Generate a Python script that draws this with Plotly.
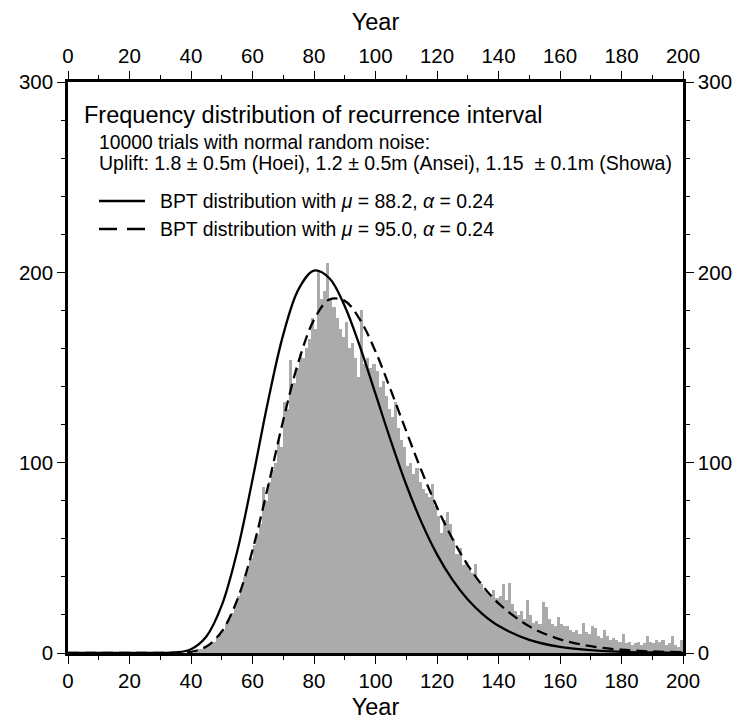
import plotly.graph_objects as go

# ---------------- data ----------------
# histogram: counts per 1-year bin, bins [year, year+1) for year = 0..199
bin_start = list(range(0, 200))
hist_counts = (
    [0] * 41 +
    [1, 2, 2, 3, 4, 5, 6, 8, 10,                                  # 41-49
     12, 15, 18, 21, 26, 30, 34, 40, 44, 50,                      # 50-59
     57, 62, 68, 87, 80, 90, 96, 100, 112, 108,                   # 60-69
     132, 128, 154, 142, 150, 157, 155, 160, 165, 176,            # 70-79
     170, 200, 186, 190, 205, 186, 182, 176, 170, 166,            # 80-89
     174, 160, 163, 155, 145, 180, 152, 155, 150, 152,            # 90-99
     148, 140, 143, 135, 128, 124, 132, 118, 112, 108,            # 100-109
     98, 100, 94, 97, 90, 86, 84, 82, 89, 77,                     # 110-119
     72, 63, 70, 74, 68, 60, 52, 55, 46, 48,                      # 120-129
     44, 42, 47, 38, 36, 33, 32, 30, 33, 29,                      # 130-139
     30, 36, 28, 37, 26, 22, 20, 22, 18, 28,                      # 140-149
     20, 16, 17, 15, 27, 24, 18, 15, 14, 19,                      # 150-159
     15, 14, 14, 12, 11, 12, 10, 16, 11, 10,                      # 160-169
     14, 13, 9, 8, 12, 9, 7, 8, 7, 6,                             # 170-179
     10, 5, 6, 4, 5, 6, 4, 5, 9, 6,                               # 180-189
     5, 7, 6, 7, 4, 5, 9, 4, 3, 7]                                # 190-199
)

# BPT curves (expected counts)
curve_years = [0, 10, 20, 30, 35, 40, 45, 50, 55, 60, 65, 70, 75, 80, 85, 90,
               95, 100, 105, 110, 115, 120, 125, 130, 135, 140, 150, 160,
               170, 180, 190, 200]
bpt_mu882 = [0, 0, 0, 0.02, 0.26, 2.0, 8.7, 25.0, 53.2, 91.1, 131.9, 167.3,
             191.2, 200.9, 196.9, 182.2, 160.7, 136.1, 111.4, 88.4, 68.5, 51.8,
             38.5, 28.1, 20.2, 14.3, 6.9, 3.2, 1.5, 0.6, 0.25, 0.1]
bpt_mu950 = [0, 0, 0, 0, 0.05, 0.6, 3.4, 11.3, 27.8, 54.0, 87.2, 122.3, 153.2,
             175.1, 185.7, 185.0, 175.0, 158.4, 138.0, 116.5, 95.6, 76.6, 60.1,
             46.2, 35.0, 26.1, 14.0, 7.2, 3.6, 1.7, 0.8, 0.37]

x_ticks = list(range(0, 201, 20))
y_ticks = [0, 100, 200, 300]

title_text = "Frequency distribution of recurrence interval"
sub1_text = "10000 trials with normal random noise:"
sub2_text = "Uplift: 1.8 \u00b1 0.5m (Hoei), 1.2 \u00b1 0.5m (Ansei), 1.15  \u00b1 0.1m (Showa)"
leg1_text = "BPT distribution with <i>\u03bc</i> = 88.2, <i>\u03b1</i> = 0.24"
leg2_text = "BPT distribution with <i>\u03bc</i> = 95.0, <i>\u03b1</i> = 0.24"

FONT = "Liberation Sans, Arial, Helvetica, sans-serif"

fig = go.Figure()
fig.add_trace(go.Bar(
    x=[b + 0.5 for b in bin_start], y=hist_counts, width=1,
    marker=dict(color="#ababab", line=dict(width=0)),
    showlegend=False, hoverinfo="skip"))
fig.add_trace(go.Scatter(
    x=curve_years, y=bpt_mu882, mode="lines",
    line=dict(color="black", width=2.3, shape="spline", smoothing=1.0),
    showlegend=False, hoverinfo="skip"))
fig.add_trace(go.Scatter(
    x=curve_years, y=bpt_mu950, mode="lines",
    line=dict(color="black", width=2.3, dash="11px,6px", shape="spline", smoothing=1.0),
    showlegend=False, hoverinfo="skip"))
# empty trace so the top / right axes are drawn
fig.add_trace(go.Scatter(x=[None], y=[None], xaxis="x2", yaxis="y2", mode="none",
                         showlegend=False, hoverinfo="skip"))

TICKFONT = dict(family=FONT, size=20.5, color="black")
axis_common = dict(
    showline=True, linewidth=2.5, linecolor="black",
    ticks="outside", ticklen=8, tickwidth=1.4, tickcolor="black",
    showgrid=False, zeroline=False, automargin=False,
    tickfont=TICKFONT,
)
minor_x = dict(dtick=10, ticklen=4, tickwidth=1.4, tickcolor="black", ticks="outside")
minor_y = dict(dtick=20, ticklen=4, tickwidth=1.4, tickcolor="black", ticks="outside")

fig.update_layout(
    width=744, height=722,
    # page has an 8px body margin: plot area lands at x 68..683, y 82..653
    margin=dict(l=60, r=69, t=74, b=77, autoexpand=False),
    paper_bgcolor="white", plot_bgcolor="white",
    bargap=0,
    font=dict(family=FONT, color="black"),
    xaxis=dict(range=[0, 200], tickvals=x_ticks, ticktext=[str(v) for v in x_ticks],
               minor=minor_x,
               title=dict(text="Year", font=dict(family=FONT, size=23.5), standoff=8),
               **axis_common),
    xaxis2=dict(range=[0, 200], overlaying="x", side="top", anchor="y",
                tickvals=x_ticks, ticktext=[str(v) for v in x_ticks],
                minor=minor_x,
                title=dict(text="Year", font=dict(family=FONT, size=23.5), standoff=7),
                **axis_common),
    yaxis=dict(range=[0, 300], tickvals=y_ticks, ticktext=[str(v) for v in y_ticks],
               minor=minor_y, **axis_common),
    yaxis2=dict(range=[0, 300], overlaying="y", side="right", anchor="x",
                tickvals=y_ticks, ticktext=[str(v) for v in y_ticks],
                minor=minor_y, **axis_common),
)

def px2paper_x(px):
    return (px - 68) / 615.0

def px2paper_y(py):
    return (653 - py) / 571.0

anns = [
    (title_text, 82, 115, 23.5),
    (sub1_text, 97, 143, 19.3),
    (sub2_text, 97, 163, 19.5),
    (leg1_text, 158, 201, 19.4),
    (leg2_text, 158, 229, 19.4),
]
for txt, xpx, ypx, fs in anns:
    fig.add_annotation(text=txt, xref="paper", yref="paper",
                       x=px2paper_x(xpx), y=px2paper_y(ypx),
                       xanchor="left", yanchor="middle", showarrow=False,
                       font=dict(family=FONT, size=fs, color="black"))

# legend line samples
fig.add_shape(type="line", xref="paper", yref="paper",
              x0=px2paper_x(99), x1=px2paper_x(145), y0=px2paper_y(201), y1=px2paper_y(201),
              line=dict(color="black", width=2.3))
fig.add_shape(type="line", xref="paper", yref="paper",
              x0=px2paper_x(99), x1=px2paper_x(145), y0=px2paper_y(229), y1=px2paper_y(229),
              line=dict(color="black", width=2.3, dash="18px,10px"))

fig.write_html("out.html")
